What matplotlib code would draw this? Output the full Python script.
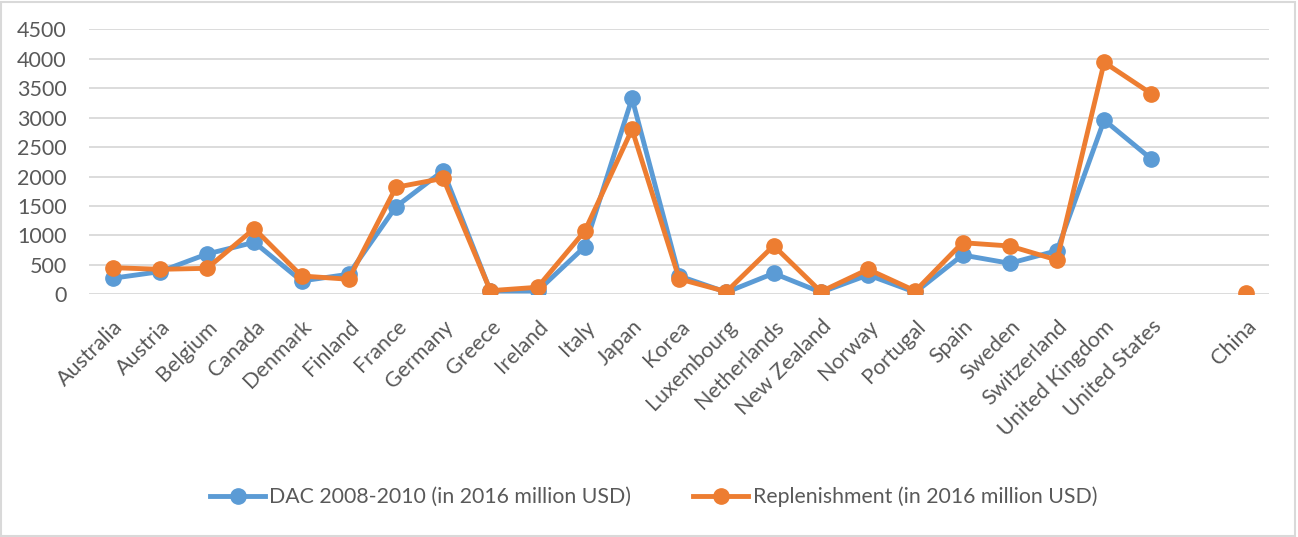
import numpy as np
import matplotlib
matplotlib.use('Agg')
import matplotlib.pyplot as plt
from matplotlib.patches import Rectangle

countries = ['Australia', 'Austria', 'Belgium', 'Canada', 'Denmark', 'Finland',
             'France', 'Germany', 'Greece', 'Ireland', 'Italy', 'Japan', 'Korea',
             'Luxembourg', 'Netherlands', 'New Zealand', 'Norway', 'Portugal',
             'Spain', 'Sweden', 'Switzerland', 'United Kingdom', 'United States',
             '', 'China']

dac = [272, 384, 684, 883, 226, 340, 1487, 2098, 56, 56, 808, 3328, 311,
       34, 356, 34, 328, 34, 667, 526, 740, 2959, 2297, np.nan, np.nan]
replenishment = [452, 424, 441, 1114, 311, 255, 1817, 1969, 61, 119, 1075, 2801, 260,
                 44, 825, 44, 424, 56, 876, 820, 582, 3939, 3406, np.nan, 27]

yticks = [0, 500, 1000, 1500, 2000, 2500, 3000, 3500, 4000, 4500]

plt.rcParams['font.family'] = ['Lato', 'DejaVu Sans']
text_color = '#595959'

fig = plt.figure(figsize=(12.98, 5.37), dpi=100)
ax = fig.add_axes([0.0686, 0.452, 0.9094, 0.4934])

x = np.arange(len(countries))
ax.plot(x, dac, color='#5B9BD5', lw=3.5, marker='o', ms=11,
        label='DAC 2008-2010 (in 2016 million USD)')
ax.plot(x, replenishment, color='#ED7D31', lw=3.5, marker='o', ms=11,
        label='Replenishment (in 2016 million USD)')

ax.set_xlim(-0.5, len(countries) - 0.5)
ax.set_ylim(0, 4500)
ax.set_yticks(yticks)
ax.set_yticklabels([str(v) for v in yticks], fontsize=15.5, color=text_color)
ax.set_xticks(x)
ax.set_xticklabels(countries, rotation=45, ha='right', rotation_mode='anchor',
                   fontsize=15.5, color=text_color)
ax.tick_params(length=0, axis='x', pad=16)
ax.tick_params(length=0, axis='y', pad=16)
for v in yticks:
    ax.axhline(v, color='#D9D9D9', lw=1.3, zorder=0)
for s in ax.spines.values():
    s.set_visible(False)

leg = fig.legend(loc='center', bbox_to_anchor=(0.5035, 0.0745), ncol=2, frameon=False,
                 fontsize=15.3, handlelength=2.6, columnspacing=2.9, handletextpad=0.2)
for t in leg.get_texts():
    t.set_color(text_color)

fig.patches.append(Rectangle((0.001, 0.002), 0.997, 0.995, transform=fig.transFigure,
                             fill=False, edgecolor='#D9D9D9', lw=1.5))

fig.savefig('out.png', dpi=100)
